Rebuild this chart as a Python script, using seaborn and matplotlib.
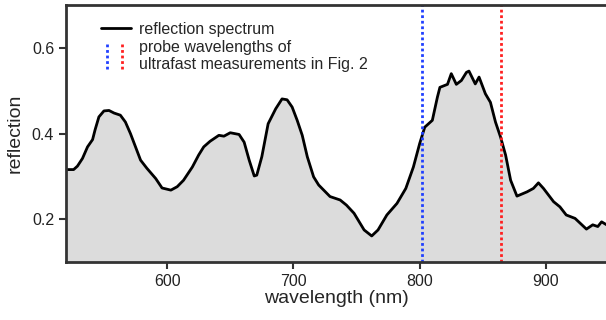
import numpy as np
import pandas as pd
import seaborn as sns
import matplotlib
matplotlib.use("Agg")
import matplotlib.pyplot as plt
from matplotlib.lines import Line2D
from matplotlib.legend_handler import HandlerBase

# reflection spectrum
wavelength = [521, 526, 529, 533, 537, 541, 543, 546, 550, 554, 558, 563, 567,
              571, 575, 579, 584, 591, 596, 603, 608, 613, 620, 625, 629, 634,
              641, 645, 650, 657, 661, 665, 669, 671, 675, 680, 686, 691, 695,
              699, 703, 707, 711, 716, 720, 724, 729, 737, 742, 748, 756, 762,
              767, 774, 782, 789, 795, 800, 804, 810, 814, 816, 822, 825, 829,
              833, 837, 839, 844, 847, 852, 856, 860, 864, 868, 872, 877, 885,
              890, 894, 898, 906, 911, 916, 923, 932, 937, 941, 944, 948]
reflection = [0.316, 0.316, 0.324, 0.342, 0.369, 0.386, 0.409, 0.439, 0.453,
              0.454, 0.448, 0.443, 0.427, 0.400, 0.369, 0.338, 0.319, 0.295,
              0.273, 0.268, 0.276, 0.291, 0.322, 0.350, 0.369, 0.382, 0.396,
              0.394, 0.402, 0.398, 0.380, 0.338, 0.301, 0.303, 0.346, 0.423,
              0.458, 0.481, 0.479, 0.462, 0.431, 0.396, 0.346, 0.299, 0.280,
              0.268, 0.253, 0.245, 0.233, 0.214, 0.175, 0.161, 0.175, 0.210,
              0.237, 0.272, 0.322, 0.377, 0.415, 0.431, 0.485, 0.508, 0.515,
              0.540, 0.515, 0.524, 0.543, 0.546, 0.516, 0.532, 0.493, 0.473,
              0.427, 0.392, 0.350, 0.291, 0.254, 0.264, 0.272, 0.285, 0.272,
              0.241, 0.229, 0.210, 0.202, 0.177, 0.187, 0.183, 0.194, 0.187]

probe_blue = 802
probe_red = 864

x_ticks = [600, 700, 800, 900]
y_ticks = [0.2, 0.4, 0.6]

df = pd.DataFrame({"wavelength": wavelength, "reflection": reflection})

sns.set_style("ticks")
plt.rcParams['font.family'] = ['Liberation Sans', 'DejaVu Sans']

BLUE = '#2040ff'
RED = '#ff2020'


class HandlerProbe(HandlerBase):
    # two short vertical dotted lines (blue, red) spanning two text lines
    def create_artists(self, legend, orig_handle, xdescent, ydescent,
                       width, height, fontsize, trans):
        arts = []
        for frac, col in [(0.21, BLUE), (0.71, RED)]:
            x = -xdescent + frac * width
            l = Line2D([x, x], [-ydescent - 0.6 * height, -ydescent + 1.6 * height],
                       color=col, lw=2, linestyle=(0, (1, 1)))
            l.set_transform(trans)
            arts.append(l)
        return arts


fig = plt.figure(figsize=(6.06, 3.2), dpi=100)
ax = fig.add_axes([0.109, 0.181, 0.891, 0.803])

ax.fill_between(df['wavelength'], df['reflection'], 0.0, color='#dcdcdc', lw=0)
sns.lineplot(data=df, x='wavelength', y='reflection', ax=ax, color='black', lw=2,
             solid_joinstyle='round', solid_capstyle='round')

ax.axvline(probe_blue, color=BLUE, lw=2, linestyle=(0, (1, 1)))
ax.axvline(probe_red, color=RED, lw=2, linestyle=(0, (1, 1)))

ax.set_xlim(520, 947.5)
ax.set_ylim(0.1, 0.7)
ax.set_xticks(x_ticks)
ax.set_yticks(y_ticks)
ax.set_xticklabels([str(t) for t in x_ticks])
ax.set_yticklabels([f"{t:.1f}" for t in y_ticks])
ax.tick_params(labelsize=11.5, colors='#333333', length=5, width=1.5, labelcolor='#222222')

ax.set_xlabel('wavelength (nm)', fontsize=14, labelpad=1)
ax.set_ylabel('reflection', fontsize=14, labelpad=6)

for s in ['left', 'bottom', 'top']:
    ax.spines[s].set_linewidth(2)
    ax.spines[s].set_color('#333333')
ax.spines['right'].set_visible(False)

probe_handle = object()
spec_handle = Line2D([], [], color='black', lw=2)
ax.legend([spec_handle, probe_handle],
          ['reflection spectrum', 'probe wavelengths of\nultrafast measurements in Fig. 2'],
          handler_map={probe_handle.__class__: HandlerProbe()},
          loc='upper left', bbox_to_anchor=(0.064, 0.935), frameon=False,
          fontsize=11.5, handlelength=1.9, handletextpad=0.5,
          labelspacing=0.2, borderpad=0, borderaxespad=0)

fig.savefig('out.png', dpi=100)
